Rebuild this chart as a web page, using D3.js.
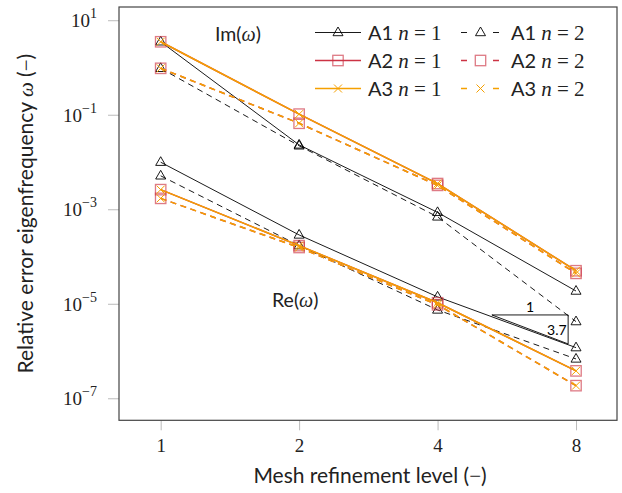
<!DOCTYPE html>
<html><head><meta charset="utf-8">
<script src="https://cdn.jsdelivr.net/npm/d3@7"></script>
<style>body{margin:0;background:#fff} svg{display:block}</style>
</head><body><svg id="c" width="622" height="493"></svg>
<script>
// ---- data ----
const levels = [1, 2, 4, 8];
const a1n1Im = [3.5, 0.023, 8.6e-4, 1.86e-5];
const a1n2Im = [0.96, 0.022, 6.9e-4, 4.2e-6];
const a2n1Im = [3.5, 0.103, 3.5e-3, 5.0e-5];
const a2n2Im = [0.96, 0.066, 3.2e-3, 4.4e-5];
const a3n1Im = [3.5, 0.103, 3.5e-3, 5.0e-5];
const a3n2Im = [0.96, 0.066, 3.2e-3, 4.4e-5];
const a1n1Re = [0.0099, 2.86e-4, 1.4e-5, 1.18e-6];
const a1n2Re = [0.0051, 1.7e-4, 7.4e-6, 6.8e-7];
const a2n1Re = [0.0026, 1.7e-4, 1.05e-5, 3.8e-7];
const a2n2Re = [0.0017, 1.55e-4, 9.5e-6, 1.85e-7];
const a3n1Re = [0.0026, 1.7e-4, 1.05e-5, 3.8e-7];
const a3n2Re = [0.0017, 1.55e-4, 9.5e-6, 1.85e-7];
const yTickExps = [1, -1, -3, -5, -7];
const xTicks = [1, 2, 4, 8];
const slopeX = [5.25, 7.69];
const slopeY0 = 5.8e-6;
const slopeRate = 3.7;

// ---- styles ----
const styles = {
  A1: {color: "#000000", mark: "tri", width: 0.9},
  A2: {color: "#cc3344", mark: "sq", width: 1.5},
  A3: {color: "#f5a000", mark: "x", width: 1.5}
};
const series = [
  {m: "A1", n: 1, v: a1n1Im}, {m: "A1", n: 2, v: a1n2Im},
  {m: "A1", n: 1, v: a1n1Re}, {m: "A1", n: 2, v: a1n2Re},
  {m: "A2", n: 1, v: a2n1Im}, {m: "A2", n: 2, v: a2n2Im},
  {m: "A2", n: 1, v: a2n1Re}, {m: "A2", n: 2, v: a2n2Re},
  {m: "A3", n: 1, v: a3n1Im}, {m: "A3", n: 2, v: a3n2Im},
  {m: "A3", n: 1, v: a3n1Re}, {m: "A3", n: 2, v: a3n2Re}
];
const legendEntries = [["A1",1],["A1",2],["A2",1],["A2",2],["A3",1],["A3",2]];

const svg = d3.select("#c");
const L = 119, R = 617, T = 7, B = 420.3;
const x = d3.scaleLog().base(2).domain([Math.pow(2, -0.301), 8 * Math.pow(2, 0.296)]).range([L, R]);
const y = d3.scaleLog().domain([Math.pow(10, -7.466), Math.pow(10, 1.28)]).range([B, T]);
const SERIF = "'Liberation Serif', 'DejaVu Serif', serif";
const SANS = "Lato, 'Open Sans', sans-serif";

// ticks
const gx = svg.append("g").attr("transform", `translate(0,${B})`)
  .call(d3.axisBottom(x).tickValues(xTicks).tickFormat(d3.format("d")).tickSize(10).tickPadding(8));
gx.select(".domain").remove();
gx.selectAll("line").attr("stroke", "#bbbbbb");
gx.selectAll("text").attr("font-family", SERIF).attr("font-size", 19).attr("fill", "#222");

const gy = svg.append("g").attr("transform", `translate(${L},0)`)
  .call(d3.axisLeft(y).tickValues(yTickExps.map(e => Math.pow(10, e))).tickFormat("").tickSize(11));
gy.select(".domain").remove();
gy.selectAll("line").attr("stroke", "#bbbbbb");
yTickExps.forEach(e => {
  const t = svg.append("text").attr("x", 97).attr("y", y(Math.pow(10, e)) + 7)
    .attr("text-anchor", "end").attr("font-family", SERIF).attr("fill", "#222").attr("font-size", 19);
  t.append("tspan").text("10");
  t.append("tspan").attr("font-size", 14).attr("dy", -9).text(e < 0 ? "\u2212" + (-e) : String(e));
});

const plot = svg.append("g");
const line = d3.line().x((d, i) => x(levels[i])).y(d => y(d));
function drawMarker(g, mk, color, cx, cy) {
  if (mk === "tri") {
    g.append("path").attr("d", `M${cx},${cy - 5.5}L${cx + 5},${cy + 3.2}L${cx - 5},${cy + 3.2}Z`)
      .attr("fill", "none").attr("stroke", color).attr("stroke-width", 0.9);
  } else if (mk === "sq") {
    g.append("rect").attr("x", cx - 5.2).attr("y", cy - 5.2).attr("width", 10.4).attr("height", 10.4)
      .attr("fill", "none").attr("stroke", color).attr("stroke-width", 1.3).attr("stroke-opacity", 0.65);
  } else {
    g.append("path").attr("d", `M${cx - 4},${cy - 4}L${cx + 4},${cy + 4}M${cx - 4},${cy + 4}L${cx + 4},${cy - 4}`)
      .attr("stroke", color).attr("stroke-width", 1).attr("fill", "none");
  }
}
series.forEach(s => {
  const st = styles[s.m];
  plot.append("path").datum(s.v).attr("d", line).attr("fill", "none")
    .attr("stroke", st.color).attr("stroke-width", st.width)
    .attr("stroke-dasharray", s.n === 2 ? "6,4.5" : null);
  s.v.forEach((d, i) => drawMarker(plot, st.mark, st.color, x(levels[i]), y(d)));
});

// slope triangle
const sy1 = slopeY0 * Math.pow(slopeX[1] / slopeX[0], -slopeRate);
svg.append("path").attr("d", `M${x(slopeX[0])},${y(slopeY0)}L${x(slopeX[1])},${y(slopeY0)}L${x(slopeX[1])},${y(sy1)}Z`)
  .attr("fill", "none").attr("stroke", "#000").attr("stroke-width", 0.9);
svg.append("text").attr("x", x(Math.sqrt(slopeX[0] * slopeX[1])))
  .attr("y", y(slopeY0) - 3).attr("text-anchor", "middle").attr("font-family", SANS).attr("font-size", 14).text("1");
svg.append("text").attr("x", x(slopeX[1]) - 1.5).attr("y", y(sy1) - 8.5).attr("text-anchor", "end")
  .attr("font-family", SANS).attr("font-size", 14).text("3.7");

// labels Im / Re
function partLabel(txt, xx, yy) {
  const t = svg.append("text").attr("x", xx).attr("y", yy).attr("font-family", SANS).attr("font-size", 19.5).attr("fill", "#222");
  t.append("tspan").text(txt + "(");
  t.append("tspan").attr("font-family", SERIF).attr("font-style", "italic").attr("font-size", 20).text("\u03c9");
  t.append("tspan").text(")");
}
partLabel("Im", 215, 41);
partLabel("Re", 272, 307);

// legend
const legX = [315, 461], legTextX = [368, 511], legY = [32.5, 60.5, 88.5];
legendEntries.forEach((e, k) => {
  const col = k % 2, row = Math.floor(k / 2);
  const st = styles[e[0]];
  const x0 = legX[col], x1 = col === 0 ? 361 : 500, yy = legY[row];
  svg.append("line").attr("x1", x0).attr("x2", x1).attr("y1", yy).attr("y2", yy)
    .attr("stroke", st.color).attr("stroke-width", st.width)
    .attr("stroke-dasharray", e[1] === 2 ? "6,26" : null);
  drawMarker(svg, st.mark, st.color, (x0 + x1) / 2, yy);
  const t = svg.append("text").attr("x", legTextX[col]).attr("y", yy + 7.5).attr("font-size", 20).attr("fill", "#222");
  t.append("tspan").attr("font-family", SANS).text(e[0] + " ");
  t.append("tspan").attr("font-family", SERIF).attr("font-style", "italic").attr("font-size", 21).text("n");
  t.append("tspan").attr("font-family", SERIF).attr("font-size", 21).text(" = " + e[1]);
});

// frame
svg.append("rect").attr("x", L).attr("y", T).attr("width", R - L).attr("height", B - T)
  .attr("fill", "none").attr("stroke", "#444").attr("stroke-width", 1.2);

// axis titles
const xl = svg.append("text").attr("x", 370).attr("y", 483).attr("text-anchor", "middle")
  .attr("font-family", SANS).attr("font-size", 21).attr("fill", "#222");
xl.append("tspan").text("Mesh refinement level (");
xl.append("tspan").attr("font-family", SERIF).text("\u2212");
xl.append("tspan").text(")");
const yl = svg.append("text").attr("transform", `translate(33,${(T + B) / 2}) rotate(-90)`).attr("text-anchor", "middle")
  .attr("font-family", SANS).attr("font-size", 21).attr("fill", "#222");
yl.append("tspan").text("Relative error eigenfrequency ");
yl.append("tspan").attr("font-family", SERIF).attr("font-style", "italic").text("\u03c9");
yl.append("tspan").text(" (");
yl.append("tspan").attr("font-family", SERIF).text("\u2212");
yl.append("tspan").text(")");
</script></body></html>
